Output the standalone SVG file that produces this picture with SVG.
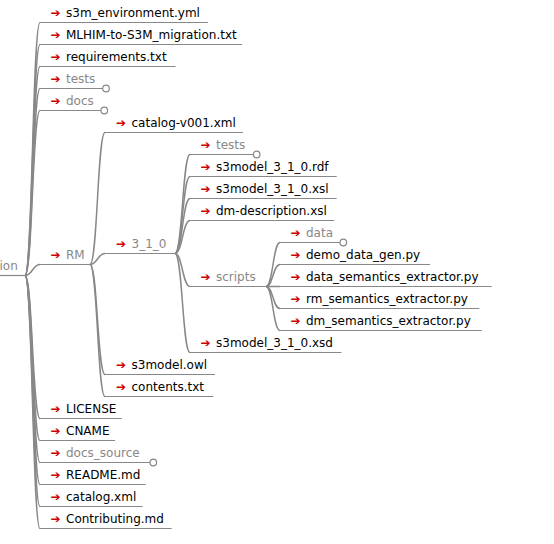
<svg xmlns="http://www.w3.org/2000/svg" width="554" height="544" viewBox="0 0 554 544">
  <style>
    text { font-family: "DejaVu Sans", "Liberation Sans", sans-serif; font-size: 12px; }
    .leaf { fill: #000; }
    .dir { fill: #888; }
    .arr { fill: #cc0000; }
    .ul { stroke: #888; stroke-width: 1.2; fill: none; }
    .link { stroke: #888; stroke-width: 1.5; fill: none; }
    .fold { stroke: #888; stroke-width: 1.2; fill: #fff; }
  </style>
  <rect width="554" height="544" fill="#fff"/>

  <!-- connectors: parent underline end to child underline start -->
  <g id="links">
    <!-- root (25,275.5) to level 1 (x=40) -->
    <path class="link" d="M25,275.5 C32.5,275.5 32.5,22.5 40,22.5"/>
    <path class="link" d="M25,275.5 C32.5,275.5 32.5,44.5 40,44.5"/>
    <path class="link" d="M25,275.5 C32.5,275.5 32.5,66.5 40,66.5"/>
    <path class="link" d="M25,275.5 C32.5,275.5 32.5,88.5 40,88.5"/>
    <path class="link" d="M25,275.5 C32.5,275.5 32.5,110.5 40,110.5"/>
    <path class="link" d="M25,275.5 C32.5,275.5 32.5,264.5 40,264.5"/>
    <path class="link" d="M25,275.5 C32.5,275.5 32.5,418.5 40,418.5"/>
    <path class="link" d="M25,275.5 C32.5,275.5 32.5,440.5 40,440.5"/>
    <path class="link" d="M25,275.5 C32.5,275.5 32.5,462.5 40,462.5"/>
    <path class="link" d="M25,275.5 C32.5,275.5 32.5,484.5 40,484.5"/>
    <path class="link" d="M25,275.5 C32.5,275.5 32.5,506.5 40,506.5"/>
    <path class="link" d="M25,275.5 C32.5,275.5 32.5,528.5 40,528.5"/>
    <!-- RM (90,264.5) to level 2 (x=105) -->
    <path class="link" d="M90,264.5 C97.5,264.5 97.5,132.5 105,132.5"/>
    <path class="link" d="M90,264.5 C97.5,264.5 97.5,253.5 105,253.5"/>
    <path class="link" d="M90,264.5 C97.5,264.5 97.5,374.5 105,374.5"/>
    <path class="link" d="M90,264.5 C97.5,264.5 97.5,396.5 105,396.5"/>
    <!-- 3_1_0 (175,253.5) to level 3 (x=190) -->
    <path class="link" d="M175,253.5 C182.5,253.5 182.5,154.5 190,154.5"/>
    <path class="link" d="M175,253.5 C182.5,253.5 182.5,176.5 190,176.5"/>
    <path class="link" d="M175,253.5 C182.5,253.5 182.5,198.5 190,198.5"/>
    <path class="link" d="M175,253.5 C182.5,253.5 182.5,220.5 190,220.5"/>
    <path class="link" d="M175,253.5 C182.5,253.5 182.5,286.5 190,286.5"/>
    <path class="link" d="M175,253.5 C182.5,253.5 182.5,352.5 190,352.5"/>
    <!-- scripts (266,286.5) to level 4 (x=280) -->
    <path class="link" d="M266,286.5 C273,286.5 273,242.5 280,242.5"/>
    <path class="link" d="M266,286.5 C273,286.5 273,264.5 280,264.5"/>
    <path class="link" d="M266,286.5 C273,286.5 273,286.5 280,286.5"/>
    <path class="link" d="M266,286.5 C273,286.5 273,308.5 280,308.5"/>
    <path class="link" d="M266,286.5 C273,286.5 273,330.5 280,330.5"/>
  </g>

  <!-- root -->
  <g id="root">
    <line class="ul" x1="0" y1="275.5" x2="25" y2="275.5"/>
    <text class="dir" x="-0.5" y="270">ion</text>
  </g>

  <!-- level 1 -->
  <g id="n-s3m-environment">
    <line class="ul" x1="40" y1="22.5" x2="208" y2="22.5"/>
    <text class="arr" x="50.5" y="17">➔</text><text class="leaf" x="66" y="17">s3m_environment.yml</text>
  </g>
  <g id="n-migration">
    <line class="ul" x1="40" y1="44.5" x2="242" y2="44.5"/>
    <text class="arr" x="50.5" y="39">➔</text><text class="leaf" x="66" y="39">MLHIM-to-S3M_migration.txt</text>
  </g>
  <g id="n-requirements">
    <line class="ul" x1="40" y1="66.5" x2="175.5" y2="66.5"/>
    <text class="arr" x="50.5" y="61">➔</text><text class="leaf" x="66" y="61">requirements.txt</text>
  </g>
  <g id="n-tests">
    <line class="ul" x1="40" y1="88.5" x2="106" y2="88.5"/>
    <circle class="fold" cx="106" cy="88.5" r="3.3"/>
    <text class="arr" x="50.5" y="83">➔</text><text class="dir" x="66" y="83">tests</text>
  </g>
  <g id="n-docs">
    <line class="ul" x1="40" y1="110.5" x2="104.3" y2="110.5"/>
    <circle class="fold" cx="104.3" cy="110.5" r="3.3"/>
    <text class="arr" x="50.5" y="105">➔</text><text class="dir" x="66" y="105">docs</text>
  </g>
  <g id="n-rm">
    <line class="ul" x1="40" y1="264.5" x2="90" y2="264.5"/>
    <text class="arr" x="50.5" y="259">➔</text><text class="dir" x="66" y="259">RM</text>
  </g>
  <g id="n-license">
    <line class="ul" x1="40" y1="418.5" x2="121.7" y2="418.5"/>
    <text class="arr" x="50.5" y="413">➔</text><text class="leaf" x="66" y="413">LICENSE</text>
  </g>
  <g id="n-cname">
    <line class="ul" x1="40" y1="440.5" x2="115" y2="440.5"/>
    <text class="arr" x="50.5" y="435">➔</text><text class="leaf" x="66" y="435">CNAME</text>
  </g>
  <g id="n-docs-source">
    <line class="ul" x1="40" y1="462.5" x2="153.3" y2="462.5"/>
    <circle class="fold" cx="153.3" cy="462.5" r="3.3"/>
    <text class="arr" x="50.5" y="457">➔</text><text class="dir" x="66" y="457">docs_source</text>
  </g>
  <g id="n-readme">
    <line class="ul" x1="40" y1="484.5" x2="145.7" y2="484.5"/>
    <text class="arr" x="50.5" y="479">➔</text><text class="leaf" x="66" y="479">README.md</text>
  </g>
  <g id="n-catalog">
    <line class="ul" x1="40" y1="506.5" x2="142.7" y2="506.5"/>
    <text class="arr" x="50.5" y="501">➔</text><text class="leaf" x="66" y="501">catalog.xml</text>
  </g>
  <g id="n-contributing">
    <line class="ul" x1="40" y1="528.5" x2="171.7" y2="528.5"/>
    <text class="arr" x="50.5" y="523">➔</text><text class="leaf" x="66" y="523">Contributing.md</text>
  </g>

  <!-- level 2: inside RM -->
  <g id="n-catalog-v001">
    <line class="ul" x1="105" y1="132.5" x2="243" y2="132.5"/>
    <text class="arr" x="116" y="127">➔</text><text class="leaf" x="131.5" y="127">catalog-v001.xml</text>
  </g>
  <g id="n-3-1-0">
    <line class="ul" x1="105" y1="253.5" x2="175" y2="253.5"/>
    <text class="arr" x="116" y="248">➔</text><text class="dir" x="131.5" y="248">3_1_0</text>
  </g>
  <g id="n-s3model-owl">
    <line class="ul" x1="105" y1="374.5" x2="215" y2="374.5"/>
    <text class="arr" x="116" y="369">➔</text><text class="leaf" x="131.5" y="369">s3model.owl</text>
  </g>
  <g id="n-contents">
    <line class="ul" x1="105" y1="396.5" x2="213.3" y2="396.5"/>
    <text class="arr" x="116" y="391">➔</text><text class="leaf" x="131.5" y="391">contents.txt</text>
  </g>

  <!-- level 3: inside 3_1_0 -->
  <g id="n-3-1-0-tests">
    <line class="ul" x1="190" y1="154.5" x2="256.7" y2="154.5"/>
    <circle class="fold" cx="256.7" cy="154.5" r="3.3"/>
    <text class="arr" x="200.5" y="149">➔</text><text class="dir" x="216" y="149">tests</text>
  </g>
  <g id="n-rdf">
    <line class="ul" x1="190" y1="176.5" x2="336.7" y2="176.5"/>
    <text class="arr" x="200.5" y="171">➔</text><text class="leaf" x="216" y="171">s3model_3_1_0.rdf</text>
  </g>
  <g id="n-xsl">
    <line class="ul" x1="190" y1="198.5" x2="336.7" y2="198.5"/>
    <text class="arr" x="200.5" y="193">➔</text><text class="leaf" x="216" y="193">s3model_3_1_0.xsl</text>
  </g>
  <g id="n-dm-description">
    <line class="ul" x1="190" y1="220.5" x2="334.3" y2="220.5"/>
    <text class="arr" x="200.5" y="215">➔</text><text class="leaf" x="216" y="215">dm-description.xsl</text>
  </g>
  <g id="n-scripts">
    <line class="ul" x1="190" y1="286.5" x2="266" y2="286.5"/>
    <text class="arr" x="200.5" y="281">➔</text><text class="dir" x="216" y="281">scripts</text>
  </g>
  <g id="n-xsd">
    <line class="ul" x1="190" y1="352.5" x2="341.5" y2="352.5"/>
    <text class="arr" x="200.5" y="347">➔</text><text class="leaf" x="216" y="347">s3model_3_1_0.xsd</text>
  </g>

  <!-- level 4: inside scripts -->
  <g id="n-data">
    <line class="ul" x1="280" y1="242.5" x2="343.3" y2="242.5"/>
    <circle class="fold" cx="343.3" cy="242.5" r="3.3"/>
    <text class="arr" x="290.5" y="237">➔</text><text class="dir" x="306" y="237">data</text>
  </g>
  <g id="n-demo-data-gen">
    <line class="ul" x1="280" y1="264.5" x2="430" y2="264.5"/>
    <text class="arr" x="290.5" y="259">➔</text><text class="leaf" x="306" y="259">demo_data_gen.py</text>
  </g>
  <g id="n-data-semantics">
    <line class="ul" x1="280" y1="286.5" x2="491.7" y2="286.5"/>
    <text class="arr" x="290.5" y="281">➔</text><text class="leaf" x="306" y="281">data_semantics_extractor.py</text>
  </g>
  <g id="n-rm-semantics">
    <line class="ul" x1="280" y1="308.5" x2="479.3" y2="308.5"/>
    <text class="arr" x="290.5" y="303">➔</text><text class="leaf" x="306" y="303">rm_semantics_extractor.py</text>
  </g>
  <g id="n-dm-semantics">
    <line class="ul" x1="280" y1="330.5" x2="481.7" y2="330.5"/>
    <text class="arr" x="290.5" y="325">➔</text><text class="leaf" x="306" y="325">dm_semantics_extractor.py</text>
  </g>
</svg>
